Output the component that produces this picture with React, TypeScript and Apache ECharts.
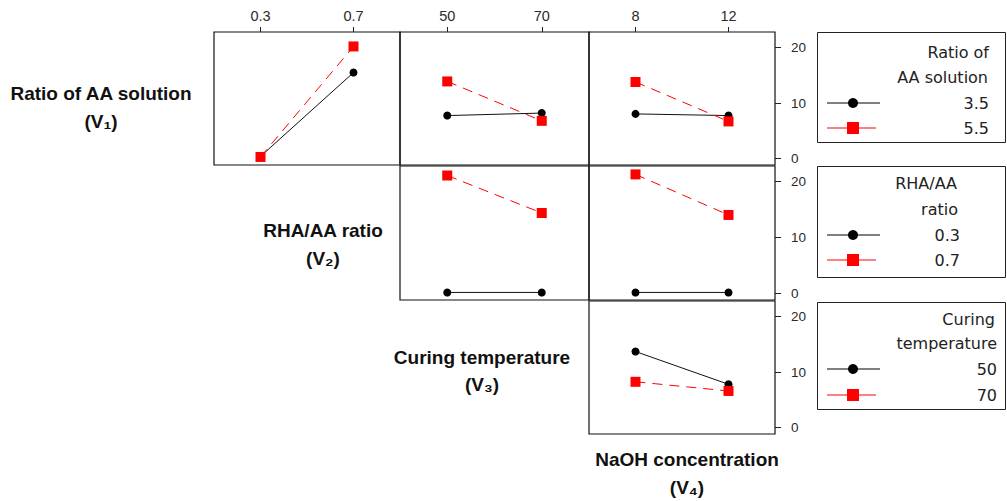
import React, { useEffect, useRef } from "react";
import * as echarts from "echarts";

// Column factor levels (x categories)
const rhaLevels = ["0.3", "0.7"];
const tempLevels = ["50", "70"];
const naohLevels = ["8", "12"];

// Row 1: Ratio of AA solution (3.5 black, 5.5 red)
const aa35VsRha = [0.4, 15.5];
const aa55VsRha = [0.3, 20.2];
const aa35VsTemp = [7.75, 8.2];
const aa55VsTemp = [13.9, 6.8];
const aa35VsNaoh = [8.05, 7.75];
const aa55VsNaoh = [13.8, 6.7];

// Row 2: RHA/AA ratio (0.3 black, 0.7 red)
const rha03VsTemp = [0.2, 0.2];
const rha07VsTemp = [21.1, 14.4];
const rha03VsNaoh = [0.2, 0.2];
const rha07VsNaoh = [21.3, 14.05];

// Row 3: Curing temperature (50 black, 70 red)
const t50VsNaoh = [13.7, 7.8];
const t70VsNaoh = [8.25, 6.6];

const yTicks = [0, 10, 20];

const rowTitles = [
  ["Ratio of AA solution", "(V\u2081)"],
  ["RHA/AA ratio", "(V\u2082)"],
  ["Curing temperature", "(V\u2083)"],
  ["NaOH concentration", "(V\u2084)"],
];

const legendTitles = [
  ["Ratio of", "AA solution"],
  ["RHA/AA", "ratio"],
  ["Curing", "temperature"],
];
const legendLabels = [
  ["3.5", "5.5"],
  ["0.3", "0.7"],
  ["50", "70"],
];

const BLACK = "#000000";
const RED = "#ff0000";

export default function App() {
  const ref = useRef<HTMLDivElement>(null);

  useEffect(() => {
    if (!ref.current) return;
    const chart = echarts.init(ref.current, undefined, { renderer: "svg" });

    const colX = [
      { left: 214, width: 186 },
      { left: 400, width: 189 },
      { left: 589, width: 186 },
    ];
    const rowY = [
      { top: 32, height: 133 },
      { top: 166, height: 134 },
      { top: 301, height: 133 },
    ];
    const colCats = [rhaLevels, tempLevels, naohLevels];

    const panels: [number, number][] = [
      [0, 0],
      [0, 1],
      [0, 2],
      [1, 1],
      [1, 2],
      [2, 2],
    ];
    const panelData: [number[], number[], string[]][] = [
      [aa35VsRha, aa55VsRha, legendLabels[0]],
      [aa35VsTemp, aa55VsTemp, legendLabels[0]],
      [aa35VsNaoh, aa55VsNaoh, legendLabels[0]],
      [rha03VsTemp, rha07VsTemp, legendLabels[1]],
      [rha03VsNaoh, rha07VsNaoh, legendLabels[1]],
      [t50VsNaoh, t70VsNaoh, legendLabels[2]],
    ];

    const grids: any[] = [];
    const xAxes: any[] = [];
    const yAxes: any[] = [];
    const series: any[] = [];

    panels.forEach(([r, c], i) => {
      grids.push({
        left: colX[c].left,
        width: colX[c].width,
        top: rowY[r].top,
        height: rowY[r].height,
        show: true,
        borderColor: "#111",
        borderWidth: 1.2,
        backgroundColor: "transparent",
      });
      const topRow = r === 0;
      xAxes.push({
        type: "category",
        gridIndex: i,
        data: colCats[c],
        position: "top",
        boundaryGap: true,
        axisLine: { show: false, onZero: false },
        axisTick: {
          show: topRow,
          alignWithLabel: true,
          length: 5,
          lineStyle: { color: "#222" },
        },
        axisLabel: {
          show: topRow,
          margin: 9,
          fontFamily: "Liberation Sans",
          fontSize: 14.5,
          color: "#2a2a2a",
        },
        splitLine: { show: false },
      });
      const rightCol = c === 2;
      yAxes.push({
        type: "value",
        gridIndex: i,
        position: "right",
        min: -1.15,
        max: 22.8,
        axisLine: { show: false, onZero: false },
        axisTick: {
          show: rightCol,
          length: 6,
          customValues: yTicks,
          lineStyle: { color: "#222" },
        },
        axisLabel: {
          show: rightCol,
          customValues: yTicks,
          margin: 16,
          fontFamily: "Liberation Sans",
          fontSize: 13.5,
          color: "#2a2a2a",
        },
        splitLine: { show: false },
      });
      const [blk, red, names] = panelData[i];
      series.push({
        type: "line",
        name: names[0],
        xAxisIndex: i,
        yAxisIndex: i,
        data: blk,
        symbol: "circle",
        symbolSize: 8,
        itemStyle: { color: BLACK },
        lineStyle: { color: "#111", width: 1 },
        z: 2,
      });
      series.push({
        type: "line",
        name: names[1],
        xAxisIndex: i,
        yAxisIndex: i,
        data: red,
        symbol: "rect",
        symbolSize: 10,
        itemStyle: { color: RED },
        lineStyle: { color: RED, width: 1, type: [10, 7] },
        z: 3,
      });
    });

    const titleFont = {
      fontFamily: "Liberation Sans",
      fontWeight: "bold" as const,
      fontSize: 19,
      fill: "#111",
      align: "center" as const,
      verticalAlign: "middle" as const,
    };
    const titlePos = [
      [101, 93, 121],
      [323, 230, 258],
      [482, 357, 384],
      [687, 459, 487],
    ];
    const graphics: any[] = [];
    rowTitles.forEach((t, i) => {
      const [x, y1, y2] = titlePos[i];
      graphics.push({ type: "text", x, y: y1, style: { ...titleFont, text: t[0] } });
      graphics.push({ type: "text", x, y: y2, style: { ...titleFont, text: t[1] } });
    });

    const legFont = {
      fontFamily: "DejaVu Sans",
      fontSize: 16,
      fill: "#222",
      align: "right" as const,
      verticalAlign: "middle" as const,
    };
    const legBoxes = [
      { top: 32, h: 110, titleX: [989, 988], titleY: [52, 77], labX: 989, labY: [103, 128] },
      { top: 166, h: 111, titleX: [957, 958], titleY: [183, 209], labX: 960, labY: [235, 260] },
      { top: 302, h: 107, titleX: [995, 997], titleY: [319, 343], labX: 997, labY: [369, 395] },
    ];
    legBoxes.forEach((b, i) => {
      graphics.push({
        type: "rect",
        shape: { x: 817.5, y: b.top + 0.5, width: 188, height: b.h },
        style: { fill: "#fff", stroke: "#222", lineWidth: 1 },
      });
      legendTitles[i].forEach((t, k) => {
        graphics.push({
          type: "text",
          x: b.titleX[k],
          y: b.titleY[k],
          style: { ...legFont, text: t },
        });
      });
      legendLabels[i].forEach((t, k) => {
        const y = b.labY[k];
        graphics.push({
          type: "text",
          x: b.labX,
          y,
          style: { ...legFont, text: t },
        });
        graphics.push({
          type: "line",
          shape: { x1: 827, y1: y, x2: k === 0 ? 880 : 876, y2: y },
          style: { stroke: k === 0 ? BLACK : RED, lineWidth: 1 },
        });
        if (k === 0) {
          graphics.push({
            type: "circle",
            shape: { cx: 853, cy: y, r: 5 },
            style: { fill: BLACK },
          });
        } else {
          graphics.push({
            type: "rect",
            shape: { x: 847, y: y - 6, width: 12, height: 12 },
            style: { fill: RED },
          });
        }
      });
    });

    chart.setOption({
      animation: false,
      backgroundColor: "#ffffff",
      grid: grids,
      xAxis: xAxes,
      yAxis: yAxes,
      series,
      graphic: graphics,
    });

    return () => chart.dispose();
  }, []);

  return (
    <div
      ref={ref}
      style={{ position: "fixed", left: 0, top: 0, width: 1007, height: 501 }}
    />
  );
}
